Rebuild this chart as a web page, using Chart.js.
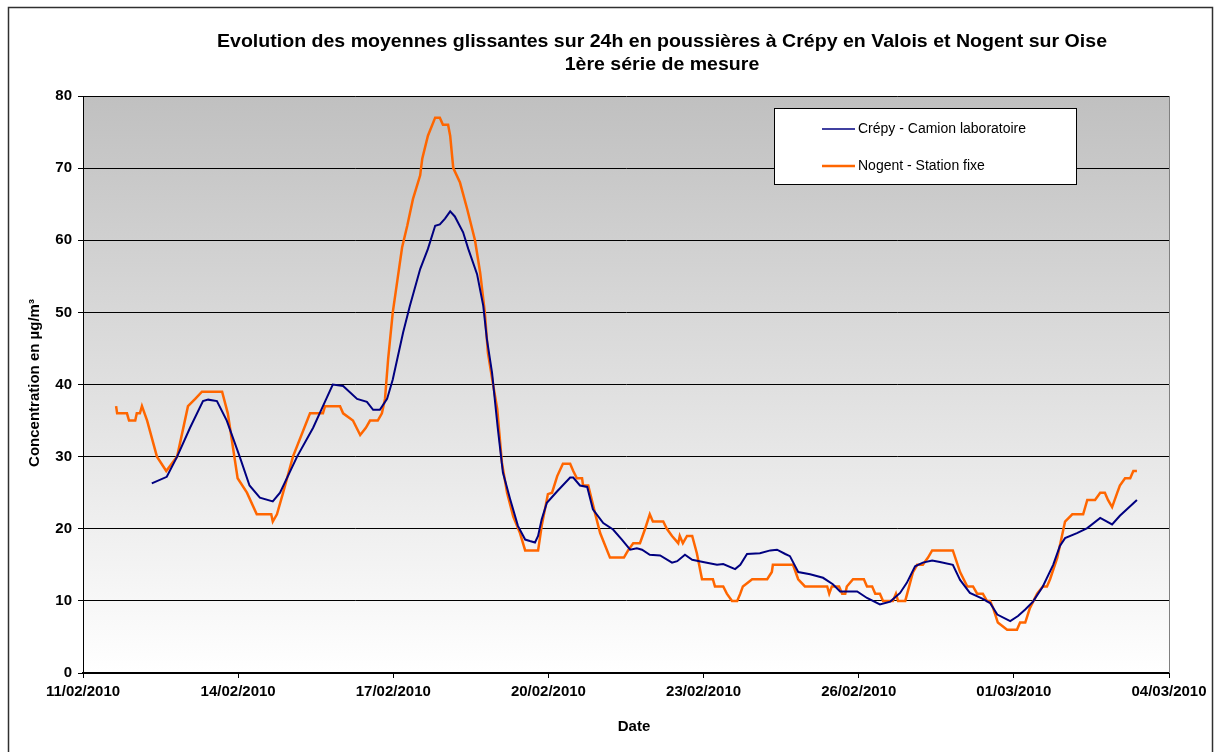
<!DOCTYPE html>
<html><head><meta charset="utf-8">
<script src="https://cdn.jsdelivr.net/npm/chart.js@4.4.1/dist/chart.umd.min.js"></script>
<style>html,body{margin:0;padding:0;background:#fff}canvas{display:block}</style>
</head><body>
<canvas id="c" width="1218" height="752"></canvas>
<script>
// x positions are days since 11/02/2010 00:00
const xTickLabels = ['11/02/2010','14/02/2010','17/02/2010','20/02/2010','23/02/2010','26/02/2010','01/03/2010','04/03/2010'];
const seriesNames = ['Crépy - Camion laboratoire', 'Nogent - Station fixe'];

const blueDays = [1.33,1.62,1.82,2.07,2.32,2.42,2.59,2.78,3.03,3.22,3.42,3.67,3.81,4.14,4.45,4.64,4.83,5.03,5.30,5.49,5.61,5.74,5.88,5.99,6.19,6.32,6.52,6.67,6.81,6.90,7.00,7.10,7.19,7.35,7.45,7.62,7.74,7.81,7.91,8.02,8.06,8.12,8.26,8.41,8.55,8.64,8.74,8.80,8.87,8.97,9.17,9.42,9.48,9.61,9.75,9.86,10.06,10.25,10.42,10.58,10.71,10.81,10.96,11.16,11.39,11.49,11.64,11.78,11.99,12.26,12.38,12.61,12.71,12.84,13.09,13.29,13.42,13.58,13.67,13.83,14.06,14.31,14.50,14.64,14.97,15.16,15.41,15.61,15.80,15.93,16.09,16.24,16.42,16.57,16.82,16.96,17.15,17.39,17.54,17.68,17.93,18.08,18.22,18.37,18.56,18.76,18.89,18.99,19.22,19.42,19.67,19.90,20.05,20.38];
const blueValues = [26.3,27.2,30,34,37.7,37.9,37.7,35,30,26,24.3,23.8,25,30,34,37,40,39.8,38,37.6,36.5,36.5,38,40.7,47.2,50.9,56,58.8,62,62.2,63,64,63.3,61.1,58.8,55.3,50.9,46.3,41.6,34,31.5,27.8,24.1,20.4,18.5,18.3,18.1,19,21.3,23.6,25.2,27.1,27.1,26,25.8,22.7,20.8,19.9,18.5,17.1,17.3,17.1,16.4,16.3,15.3,15.5,16.4,15.7,15.4,15,15.1,14.4,15,16.5,16.6,17,17.1,16.5,16.2,14,13.7,13.2,12.3,11.3,11.3,10.4,9.5,9.9,11.1,12.5,14.8,15.3,15.6,15.4,15,12.9,11.1,10.3,9.7,8.1,7.2,7.9,8.8,9.9,12,15,17.6,18.7,19.4,20.1,21.5,20.6,21.8,24];

const orangeDays = [0.64,0.66,0.85,0.89,1.01,1.04,1.10,1.14,1.24,1.43,1.61,1.82,2.03,2.17,2.30,2.69,2.80,2.99,3.17,3.36,3.64,3.67,3.75,3.87,4.06,4.39,4.64,4.68,4.97,5.03,5.22,5.36,5.47,5.55,5.70,5.78,5.84,5.90,5.99,6.09,6.17,6.27,6.38,6.52,6.56,6.67,6.81,6.90,6.96,7.06,7.10,7.16,7.29,7.43,7.58,7.68,7.77,7.83,7.93,8.01,8.10,8.20,8.32,8.45,8.55,8.80,8.87,8.99,9.07,9.17,9.28,9.42,9.48,9.55,9.65,9.67,9.77,9.90,10.00,10.19,10.46,10.54,10.64,10.77,10.87,10.96,11.02,11.22,11.29,11.39,11.51,11.54,11.60,11.68,11.78,11.87,11.97,12.18,12.22,12.38,12.45,12.55,12.65,12.71,12.76,12.94,13.23,13.32,13.34,13.73,13.83,13.96,14.39,14.43,14.48,14.62,14.68,14.74,14.77,14.89,15.10,15.16,15.26,15.32,15.41,15.47,15.66,15.72,15.76,15.90,16.05,16.13,16.24,16.34,16.42,16.82,16.96,17.10,17.21,17.29,17.40,17.48,17.54,17.60,17.69,17.87,18.06,18.12,18.22,18.31,18.45,18.56,18.64,18.70,18.84,18.93,18.99,19.13,19.34,19.42,19.57,19.67,19.76,19.82,19.90,20.00,20.05,20.15,20.25,20.31,20.38];
const orangeValues = [37,36,36,35,35,36,36,37,35,30,28,30,37,38,39,39,36,27,25,22,22,21,22,25,30,36,36,37,37,36,35,33,34,35,35,36,38,43.5,50,55,59,62,65.7,69,71.3,74.5,77,77,76,76,74.5,70,68,64.3,60,55.5,50,44.4,40,36.6,29.2,25,21.7,19.4,17,17,20.4,24.8,25,27.3,29,29,28,27,27,26,26,22.2,19.4,16,16,17,18,18,20,22,21,21,20,19,18,19,18,19,19,16.6,13,13,12,12,11,10,10,11,12,13,13,14,15,15,13,12,12,11,12,12,11,11,12,13,13,12,12,11,11,10,10,11,10,10,14,15,15,16,17,17,14,12,12,11,11,10,10,9,7,6,6,7,7,9,11,12,12,13,16,19,21,22,22,24,24,25,25,24,23,25,26,27,27,28,28];

const FONT = "'Liberation Sans', Arial, Helvetica, sans-serif";
const TITLE1 = 'Evolution des moyennes glissantes sur 24h en poussières à Crépy en Valois et Nogent sur Oise';
const TITLE2 = '1ère série de mesure';

const decor = {
  id: 'decor',
  beforeDraw(chart) {
    const { ctx, chartArea: a } = chart;
    ctx.save();
    ctx.fillStyle = '#ffffff';
    ctx.fillRect(0, 0, chart.width, chart.height);
    const g = ctx.createLinearGradient(0, a.top, 0, a.bottom);
    g.addColorStop(0, '#c0c0c0');
    g.addColorStop(1, '#ffffff');
    ctx.fillStyle = g;
    ctx.fillRect(a.left, a.top, a.right - a.left, a.bottom - a.top);
    ctx.restore();
  },
  afterDraw(chart) {
    const { ctx, chartArea: a } = chart;
    ctx.save();
    // plot area right border
    ctx.strokeStyle = '#808080';
    ctx.lineWidth = 1;
    ctx.beginPath();
    ctx.moveTo(Math.round(a.right) + 0.5, a.top);
    ctx.lineTo(Math.round(a.right) + 0.5, a.bottom);
    ctx.stroke();
    // outer border
    ctx.strokeStyle = '#303030';
    ctx.lineWidth = 1.5;
    ctx.strokeRect(8.5, 7.5, 1204, 800);
    // titles (slightly widened like the original rendering)
    ctx.fillStyle = '#000';
    ctx.textAlign = 'center';
    ctx.textBaseline = 'alphabetic';
    ctx.font = 'bold 18px ' + FONT;
    const sx = 890 / ctx.measureText(TITLE1).width;
    ctx.save();
    ctx.translate(662, 0);
    ctx.scale(sx, 1);
    ctx.fillText(TITLE1, 0, 47);
    ctx.fillText(TITLE2, 0, 70);
    ctx.restore();
    ctx.textBaseline = 'middle';
    ctx.font = 'bold 15px ' + FONT;
    ctx.fillText('Date', 634, 727);
    ctx.save();
    ctx.translate(35, 383);
    ctx.rotate(-Math.PI / 2);
    ctx.fillText('Concentration en µg/m³', 0, 0);
    ctx.restore();
    // legend
    ctx.fillStyle = '#ffffff';
    ctx.fillRect(774, 108, 303, 76);
    ctx.strokeStyle = '#000';
    ctx.lineWidth = 1;
    ctx.strokeRect(774.5, 108.5, 302, 76);
    const ds = chart.data.datasets;
    const ly = [129, 166];
    ds.forEach((d, i) => {
      ctx.strokeStyle = d.borderColor;
      ctx.lineWidth = i === 0 ? 1.5 : 2.5;
      ctx.beginPath();
      ctx.moveTo(822, ly[i]);
      ctx.lineTo(855, ly[i]);
      ctx.stroke();
      ctx.fillStyle = '#000';
      ctx.textAlign = 'left';
      ctx.font = '14px ' + FONT;
      ctx.fillText(d.label, 858, ly[i]);
    });
    ctx.restore();
  }
};

const toPts = (xs, ys) => xs.map((x, i) => ({ x: x, y: ys[i] }));

new Chart(document.getElementById('c'), {
  type: 'line',
  data: {
    datasets: [
      { label: seriesNames[0], data: toPts(blueDays, blueValues), borderColor: '#000080', borderWidth: 2, pointRadius: 0, tension: 0, fill: false },
      { label: seriesNames[1], data: toPts(orangeDays, orangeValues), borderColor: '#ff6600', borderWidth: 2.5, pointRadius: 0, tension: 0, fill: false }
    ]
  },
  options: {
    responsive: false,
    animation: false,
    events: [],
    layout: { padding: { top: 96, right: 49, left: 0, bottom: 0 } },
    plugins: { legend: { display: false }, title: { display: false }, tooltip: { enabled: false } },
    scales: {
      x: {
        type: 'linear', min: 0, max: 21,
        ticks: { stepSize: 3, autoSkip: false, maxRotation: 0, color: '#000', padding: 5,
          font: { family: FONT, size: 15, weight: 'bold' },
          callback: (v) => xTickLabels[Math.round(v / 3)] },
        grid: { drawOnChartArea: false, color: '#000', tickLength: 5 },
        border: { color: '#000', width: 2 },
        afterFit: (s) => { s.height = 79; }
      },
      y: {
        min: 0, max: 80,
        ticks: { stepSize: 10, color: '#000', padding: 6, font: { family: FONT, size: 15, weight: 'bold' } },
        grid: { color: '#000', tickLength: 5 },
        border: { color: '#000', width: 1 },
        afterFit: (s) => { s.width = 83; }
      }
    }
  },
  plugins: [decor]
});
</script>
</body></html>
